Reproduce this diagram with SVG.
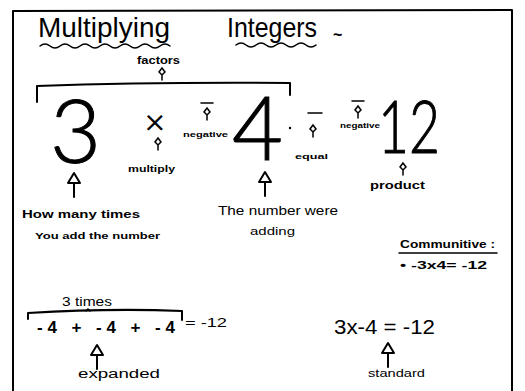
<svg xmlns="http://www.w3.org/2000/svg" xmlns:xlink="http://www.w3.org/1999/xlink" width="525" height="391" viewBox="0 0 525 391">
<style>
.h{font-family:"Liberation Sans","DejaVu Sans",sans-serif;fill:#000}
.big{font-family:"Lato","Liberation Sans",sans-serif;font-weight:300;fill:#000;stroke:#000;stroke-width:1}
.ln{stroke:#000;stroke-width:2;fill:none;stroke-linecap:round;stroke-linejoin:round}
.th{stroke:#000;stroke-width:1.5;fill:none;stroke-linecap:round}
</style>
<defs>
<g id="bigArrow"><path class="ln" d="M0,0 L-6,10 L6,10 Z M0,10 L0,24"/></g>
<g id="smArrow"><path class="th" d="M0,0 L-3,4 L0,7 L3,4 Z M0,7 L0,12"/></g>
</defs>
<rect x="0" y="0" width="525" height="391" fill="#fff"/>
<path class="ln" d="M13,391 L13,11 L512,10 L512,391"/>

<g id="title">
<text class="h" x="38" y="37" font-size="28" textLength="132" lengthAdjust="spacingAndGlyphs">Multiplying</text>
<path class="th" d="M40,46 q5,-4 10,0 t10,0 t10,0 t10,0 t10,0 t10,0 t10,0 t10,0 t10,0 t10,0 t10,0 t10,0 t10,0"/>
<text class="h" x="227" y="37" font-size="28" textLength="90" lengthAdjust="spacingAndGlyphs">Integers</text>
<path class="th" d="M236,45 q5,-4 10,0 t10,0 t10,0 t10,0 t10,0 t10,0 t10,0 t10,0"/>
<text class="h" x="333" y="40" font-size="16" font-weight="bold">~</text>
</g>

<g id="factors">
<text class="h" x="137" y="64" font-size="10" font-weight="bold" textLength="43" lengthAdjust="spacingAndGlyphs">factors</text>
<use xlink:href="#smArrow" x="162" y="68"/>
<path class="ln" d="M37,102 L37,86 Q150,82 290,83 L290,95"/>
</g>

<g id="equation">
<text class="big" x="50" y="163" font-size="88">3</text>
<text class="big" x="145" y="134" font-size="34" font-weight="400">×</text>
<path class="th" d="M201,103 L213,103"/>
<use xlink:href="#smArrow" x="207" y="108"/>
<text class="h" x="183" y="137" font-size="8" font-weight="bold" textLength="45" lengthAdjust="spacingAndGlyphs">negative</text>
<text class="big" x="232" y="160" font-size="88">4</text>
<circle cx="290" cy="128" r="1.2" fill="#000"/>
<path class="th" d="M308,113 L322,113"/>
<use xlink:href="#smArrow" x="313" y="125"/>
<text class="h" x="295" y="159" font-size="8" font-weight="bold" textLength="33" lengthAdjust="spacingAndGlyphs">equal</text>
<path class="th" d="M352,101 L364,101"/>
<use xlink:href="#smArrow" x="358" y="106"/>
<text class="h" x="340" y="128" font-size="8" font-weight="bold" textLength="40" lengthAdjust="spacingAndGlyphs">negative</text>
<text class="big" x="378" y="153" font-size="72" textLength="62" lengthAdjust="spacingAndGlyphs">12</text>
</g>

<g id="multiply">
<use xlink:href="#smArrow" x="158" y="138"/>
<text class="h" x="128" y="172" font-size="9" font-weight="bold" textLength="47" lengthAdjust="spacingAndGlyphs">multiply</text>
</g>

<g id="product">
<use xlink:href="#smArrow" x="403" y="163"/>
<text class="h" x="370" y="189" font-size="11" font-weight="bold" textLength="55" lengthAdjust="spacingAndGlyphs">product</text>
</g>

<g id="howMany">
<use xlink:href="#bigArrow" x="74" y="173"/>
<text class="h" x="22" y="218" font-size="11" font-weight="bold" textLength="118" lengthAdjust="spacingAndGlyphs">How many times</text>
<text class="h" x="35" y="239" font-size="9" font-weight="bold" textLength="125" lengthAdjust="spacingAndGlyphs">You add the number</text>
</g>

<g id="numberAdding">
<use xlink:href="#bigArrow" x="265" y="172"/>
<text class="h" x="218" y="215" font-size="12" textLength="120" lengthAdjust="spacingAndGlyphs">The number were</text>
<text class="h" x="250" y="235" font-size="11" textLength="45" lengthAdjust="spacingAndGlyphs">adding</text>
</g>

<g id="commutative">
<text class="h" x="400" y="248" font-size="10" font-weight="bold" textLength="95" lengthAdjust="spacingAndGlyphs">Communitive :</text>
<path class="th" d="M399,253 L497,253"/>
<text class="h" x="400" y="269" font-size="11" font-weight="bold" textLength="87" lengthAdjust="spacingAndGlyphs">• -3x4= -12</text>
</g>

<g id="expanded">
<text class="h" x="62" y="306" font-size="12" textLength="50" lengthAdjust="spacingAndGlyphs">3 times</text>
<path class="ln" d="M28,319 L28,313 Q110,308 182,311 L182,320"/>
<path class="th" d="M86,311 L88,309 L90,311"/>
<text class="h" x="37" y="333" font-size="17" font-weight="bold" textLength="138" lengthAdjust="spacing">-4 + -4 + -4</text>
<text class="h" x="185" y="327" font-size="13" textLength="42" lengthAdjust="spacingAndGlyphs">= -12</text>
<use xlink:href="#bigArrow" x="97" y="345"/>
<text class="h" x="78" y="378" font-size="12" textLength="82" lengthAdjust="spacingAndGlyphs">expanded</text>
</g>

<g id="standard">
<text class="h" x="334" y="334" font-size="20" textLength="101" lengthAdjust="spacingAndGlyphs">3x-4 = -12</text>
<use xlink:href="#bigArrow" x="388" y="343"/>
<text class="h" x="368" y="377" font-size="11" textLength="57" lengthAdjust="spacingAndGlyphs">standard</text>
</g>
</svg>
